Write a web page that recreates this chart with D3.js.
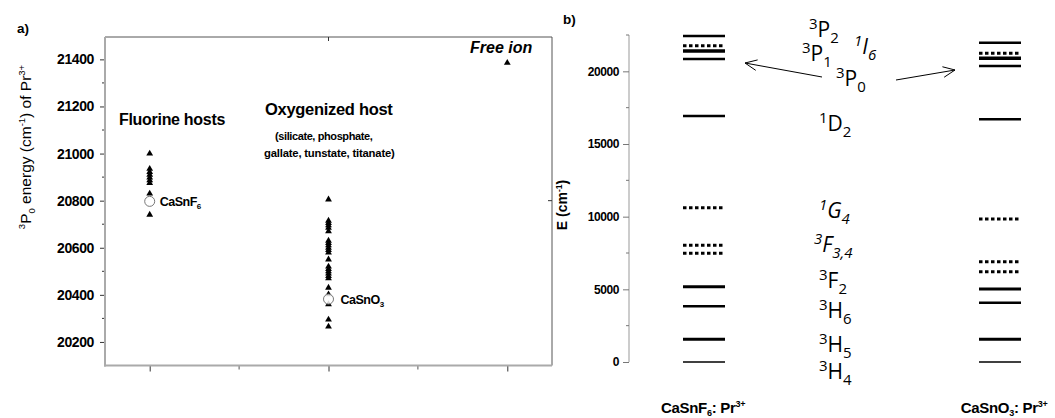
<!DOCTYPE html>
<html>
<head>
<meta charset="utf-8">
<script src="https://cdn.jsdelivr.net/npm/d3@7/dist/d3.min.js"></script>
<style>
  html, body { margin: 0; padding: 0; background: #fff; }
  svg { display: block; }
</style>
</head>
<body>
<svg id="chart" width="1055" height="418"></svg>
<script>
// ---------- Panel a) : 3P0 energy of Pr3+ in different hosts ----------
const hostGroups = ["Fluorine hosts", "Oxygenized host", "Free ion"];
const fluorineP0 = [21000, 20935, 20922, 20910, 20898, 20886, 20875, 20830, 20740];
const oxygenP0 = [20805, 20715, 20705, 20695, 20685, 20670, 20630, 20620, 20610, 20600,
                  20590, 20580, 20550, 20520, 20510, 20500, 20490, 20480, 20470, 20430,
                  20402, 20360, 20295, 20265];
const freeIonP0 = [21385];
const casnf6P0 = 20797;   // CaSnF6 (open circle)
const casno3P0 = 20382;   // CaSnO3 (open circle)
const energyTicksA = [20200, 20400, 20600, 20800, 21000, 21200, 21400];

// ---------- Panel b) : energy level diagrams ----------
const compounds = ["CaSnF6", "CaSnO3"];
const terms = ["3P2", "1I6", "3P1", "3P0", "1D2", "1G4", "3F4", "3F3", "3F2", "3H6", "3H5", "3H4"];
const levelsCaSnF6 = [22430, 21760, 21400, 20850, 16930, 10620, 8030, 7480, 5180, 3830, 1560, 0];
const levelsCaSnO3 = [21970, 21240, 20900, 20370, 16700, 9840, 6900, 6210, 5020, 4080, 1560, 0];
const energyTicksB = [0, 5000, 10000, 15000, 20000];

// ---------- styling ----------
const dottedTerms = new Set(["1I6", "1G4", "3F4", "3F3"]);
const termWidth = { "3P2": 2.5, "3P1": 3.5, "3P0": 2.5, "1D2": 2.5, "3F2": 3, "3H6": 2.5, "3H5": 3, "3H4": 1.5 };
const boldArial = "'Liberation Sans', Arial, sans-serif";
const termFont = "'Open Sans', 'Noto Sans', sans-serif";

const svg = d3.select("#chart");

// rich text helper: parts = [{t, sup, sub}]
function rich(g, x, y, parts, o) {
  const t = g.append("text").attr("x", x).attr("y", y)
    .attr("font-family", o.family).attr("font-size", o.size)
    .attr("font-weight", o.weight || "normal")
    .attr("font-style", o.italic ? "italic" : "normal")
    .attr("fill", "#000");
  if (o.anchor) t.attr("text-anchor", o.anchor);
  if (o.spacing) t.attr("letter-spacing", o.spacing);
  let cur = 0;
  parts.forEach(p => {
    const target = p.sup ? -o.supShift : p.sub ? o.subShift : 0;
    const ts = t.append("tspan").text(p.t).attr("dy", target - cur);
    if (p.sup || p.sub) ts.attr("font-size", o.small);
    cur = target;
  });
  return t;
}

// ================= Panel a =================
const A = { left: 105, right: 552, top: 37, bottom: 365.5 };
const xA = d3.scaleLinear().domain([0.75, 3.25]).range([A.left, A.right]);
const yA = d3.scaleLinear().domain([20100, 21495]).range([A.bottom, A.top]);
const gA = svg.append("g");

// frame: top/right thin dark, left/bottom grey axes
gA.append("line").attr("x1", A.left).attr("x2", A.right).attr("y1", A.top).attr("y2", A.top)
  .attr("stroke", "#555").attr("stroke-width", 1);
gA.append("line").attr("x1", A.right).attr("x2", A.right).attr("y1", A.top).attr("y2", A.bottom)
  .attr("stroke", "#555").attr("stroke-width", 1);

// left axis
const yAxisA = d3.axisLeft(yA).tickValues(energyTicksA).tickSize(5).tickPadding(6).tickFormat(d3.format("d"));
const gy = gA.append("g").attr("transform", `translate(${A.left},0)`).call(yAxisA);
gy.select(".domain").remove();
gy.selectAll(".tick line").attr("stroke", "#333");
gy.selectAll(".tick text").attr("font-family", boldArial).attr("font-weight", "bold")
  .attr("font-size", 14).attr("letter-spacing", -0.4).attr("fill", "#000");
gA.selectAll(".minorY").data(d3.range(20300, 21500, 200)).join("line")
  .attr("x1", A.left - 3).attr("x2", A.left).attr("y1", d => yA(d)).attr("y2", d => yA(d))
  .attr("stroke", "#333");
gA.append("line").attr("x1", A.left).attr("x2", A.left).attr("y1", A.top).attr("y2", A.bottom + 1)
  .attr("stroke", "#aaa").attr("stroke-width", 2);

// bottom axis (no labels)
const gx = gA.append("g").attr("transform", `translate(0,${A.bottom})`)
  .call(d3.axisBottom(xA).tickValues([1, 2, 3]).tickSize(6).tickFormat(""));
gx.select(".domain").remove();
gx.selectAll(".tick line").attr("stroke", "#333");
gA.selectAll(".minorX").data([1.5, 2.5]).join("line")
  .attr("x1", d => xA(d)).attr("x2", d => xA(d)).attr("y1", A.bottom).attr("y2", A.bottom + 4)
  .attr("stroke", "#555");
gA.append("line").attr("x1", A.left - 1).attr("x2", A.right).attr("y1", A.bottom).attr("y2", A.bottom)
  .attr("stroke", "#aaa").attr("stroke-width", 2);
// inner ticks on top and right
gA.append("line").attr("x1", xA(2)).attr("x2", xA(2)).attr("y1", A.top).attr("y2", A.top + 4).attr("stroke", "#333");
gA.append("line").attr("x1", A.right - 4).attr("x2", A.right).attr("y1", yA(20800)).attr("y2", yA(20800)).attr("stroke", "#333");

// axis title
rich(gA.append("g").attr("transform", `translate(31,147) rotate(-90)`), 0, 0,
  [{ t: "3", sup: true }, { t: "P" }, { t: "0", sub: true }, { t: " energy (cm" }, { t: "-1", sup: true },
   { t: ") of Pr" }, { t: "3+", sup: true }],
  { family: boldArial, size: 15.5, small: 9.5, supShift: 6, subShift: 4, anchor: "middle" });

// markers
const tri = d3.symbol().type(d3.symbolTriangle).size(20);
const pts = [
  ...fluorineP0.map(v => ({ g: 1, v })),
  ...oxygenP0.map(v => ({ g: 2, v })),
  ...freeIonP0.map(v => ({ g: 3, v }))
];
gA.selectAll(".tri").data(pts).join("path")
  .attr("d", tri).attr("transform", d => `translate(${xA(d.g)},${yA(d.v)})`)
  .attr("fill", "#000");
gA.selectAll(".ref").data([{ g: 1, v: casnf6P0 }, { g: 2, v: casno3P0 }]).join("circle")
  .attr("cx", d => xA(d.g)).attr("cy", d => yA(d.v)).attr("r", 5)
  .attr("fill", "#fff").attr("fill-opacity", 0.85).attr("stroke", "#777").attr("stroke-width", 1);

const smallOpts = { family: boldArial, size: 12.5, small: 8, supShift: 5, subShift: 3, weight: "bold", spacing: -0.5 };
rich(gA, xA(1) + 10, yA(casnf6P0) + 5, [{ t: "CaSnF" }, { t: "6", sub: true }], smallOpts);
rich(gA, xA(2) + 12, yA(casno3P0) + 5, [{ t: "CaSnO" }, { t: "3", sub: true }], smallOpts);

// group labels
gA.append("text").attr("x", 119).attr("y", 125).text(hostGroups[0])
  .attr("font-family", boldArial).attr("font-weight", "bold").attr("font-size", 16).attr("letter-spacing", -0.3);
gA.append("text").attr("x", 265).attr("y", 115).text(hostGroups[1])
  .attr("font-family", boldArial).attr("font-weight", "bold").attr("font-size", 16.5).attr("letter-spacing", -0.3);
gA.append("text").attr("x", 275).attr("y", 140).text("(silicate, phosphate,")
  .attr("font-family", boldArial).attr("font-weight", "bold").attr("font-size", 11).attr("letter-spacing", -0.4);
gA.append("text").attr("x", 264).attr("y", 157).text("gallate, tunstate, titanate)")
  .attr("font-family", boldArial).attr("font-weight", "bold").attr("font-size", 11.3).attr("letter-spacing", -0.2);
gA.append("text").attr("x", 470).attr("y", 53).text(hostGroups[2])
  .attr("font-family", boldArial).attr("font-weight", "bold").attr("font-style", "italic").attr("font-size", 16);
gA.append("text").attr("x", 17).attr("y", 33).text("a)")
  .attr("font-family", boldArial).attr("font-weight", "bold").attr("font-size", 13.5);

// ================= Panel b =================
const B = { axisX: 629, top: 35, bottom: 362 };
const yB = d3.scaleLinear().domain([0, 22500]).range([B.bottom, B.top]);
const xB = d3.scalePoint().domain(compounds).range([704, 1000]);
const halfLen = 21;
const gB = svg.append("g");

const yAxisB = d3.axisLeft(yB).tickValues(energyTicksB).tickSize(6).tickPadding(4).tickFormat(d3.format("d"));
const gyb = gB.append("g").attr("transform", `translate(${B.axisX},0)`).call(yAxisB);
gyb.select(".domain").attr("stroke", "#999").attr("d", `M0,${B.bottom}V${B.top}`);
gyb.selectAll(".tick line").attr("stroke", "#777");
gyb.selectAll(".tick text").attr("font-family", boldArial).attr("font-weight", "bold")
  .attr("font-size", 12).attr("letter-spacing", -0.4).attr("fill", "#000");
gB.selectAll(".minorB").data(d3.range(2500, 22501, 5000)).join("line")
  .attr("x1", B.axisX - 3).attr("x2", B.axisX).attr("y1", d => yB(d)).attr("y2", d => yB(d))
  .attr("stroke", "#777");

rich(gB.append("g").attr("transform", `translate(567,205) rotate(-90)`), 0, 0,
  [{ t: "E (cm" }, { t: "-1", sup: true }, { t: ")" }],
  { family: boldArial, size: 14, small: 8.5, supShift: 5, subShift: 3, anchor: "middle", weight: "bold" });
gB.append("text").attr("x", 563).attr("y", 24).text("b)")
  .attr("font-family", boldArial).attr("font-weight", "bold").attr("font-size", 13.5);

// energy levels
const levelRows = [];
compounds.forEach((c, ci) => {
  const vals = ci === 0 ? levelsCaSnF6 : levelsCaSnO3;
  terms.forEach((t, i) => levelRows.push({ c, t, e: vals[i] }));
});
gB.selectAll(".level").data(levelRows).join("line")
  .attr("x1", d => xB(d.c) - halfLen).attr("x2", d => xB(d.c) + halfLen)
  .attr("y1", d => yB(d.e)).attr("y2", d => yB(d.e))
  .attr("stroke", "#000")
  .attr("stroke-width", d => dottedTerms.has(d.t) ? 3 : termWidth[d.t])
  .attr("stroke-dasharray", d => dottedTerms.has(d.t) ? "3.5,2.5" : null);

// compound labels
const cmpLabelOpts = { family: boldArial, size: 15, small: 9, supShift: 6, subShift: 3, weight: "bold", anchor: "middle", spacing: -0.3 };
rich(gB, xB(compounds[0]) - 1, 413, [{ t: "CaSnF" }, { t: "6", sub: true }, { t: ": Pr" }, { t: "3+", sup: true }], cmpLabelOpts);
rich(gB, xB(compounds[1]) + 4, 413, [{ t: "CaSnO" }, { t: "3", sub: true }, { t: ": Pr" }, { t: "3+", sup: true }], cmpLabelOpts);

// term symbols
const tOpts = { family: termFont, size: 21, small: 15, supShift: 8, subShift: 6 };
const termLabels = [
  { parts: [{ t: "3", sup: true }, { t: "P" }, { t: "2", sub: true }], x: 809, y: 37 },
  { parts: [{ t: "1", sup: true }, { t: "I" }, { t: "6", sub: true }], x: 854, y: 54, italic: true },
  { parts: [{ t: "3", sup: true }, { t: "P" }, { t: "1", sub: true }], x: 802, y: 61 },
  { parts: [{ t: "3", sup: true }, { t: "P" }, { t: "0", sub: true }], x: 836, y: 86 },
  { parts: [{ t: "1", sup: true }, { t: "D" }, { t: "2", sub: true }], x: 819, y: 131 },
  { parts: [{ t: "1", sup: true }, { t: "G" }, { t: "4", sub: true }], x: 819, y: 218, italic: true },
  { parts: [{ t: "3", sup: true }, { t: "F" }, { t: "3,4", sub: true }], x: 814, y: 252, italic: true },
  { parts: [{ t: "3", sup: true }, { t: "F" }, { t: "2", sub: true }], x: 819, y: 288 },
  { parts: [{ t: "3", sup: true }, { t: "H" }, { t: "6", sub: true }], x: 819, y: 318 },
  { parts: [{ t: "3", sup: true }, { t: "H" }, { t: "5", sub: true }], x: 819, y: 352 },
  { parts: [{ t: "3", sup: true }, { t: "H" }, { t: "4", sub: true }], x: 819, y: 379 }
];
termLabels.forEach(l => rich(gB, l.x, l.y, l.parts, Object.assign({}, tOpts, { italic: !!l.italic })));

// arrows from 3P0 to the 3P0 levels
function arrow(x1, y1, x2, y2) {
  const ang = Math.atan2(y2 - y1, x2 - x1), L = 13, spread = 0.42;
  gB.append("line").attr("x1", x1).attr("y1", y1).attr("x2", x2).attr("y2", y2)
    .attr("stroke", "#000").attr("stroke-width", 1);
  const p = d3.path();
  p.moveTo(x2 - L * Math.cos(ang - spread), y2 - L * Math.sin(ang - spread));
  p.lineTo(x2, y2);
  p.lineTo(x2 - L * Math.cos(ang + spread), y2 - L * Math.sin(ang + spread));
  gB.append("path").attr("d", p.toString()).attr("fill", "none").attr("stroke", "#000").attr("stroke-width", 1);
}
arrow(822, 77, 745, 63);
arrow(896, 80, 955, 70);
</script>
</body>
</html>
